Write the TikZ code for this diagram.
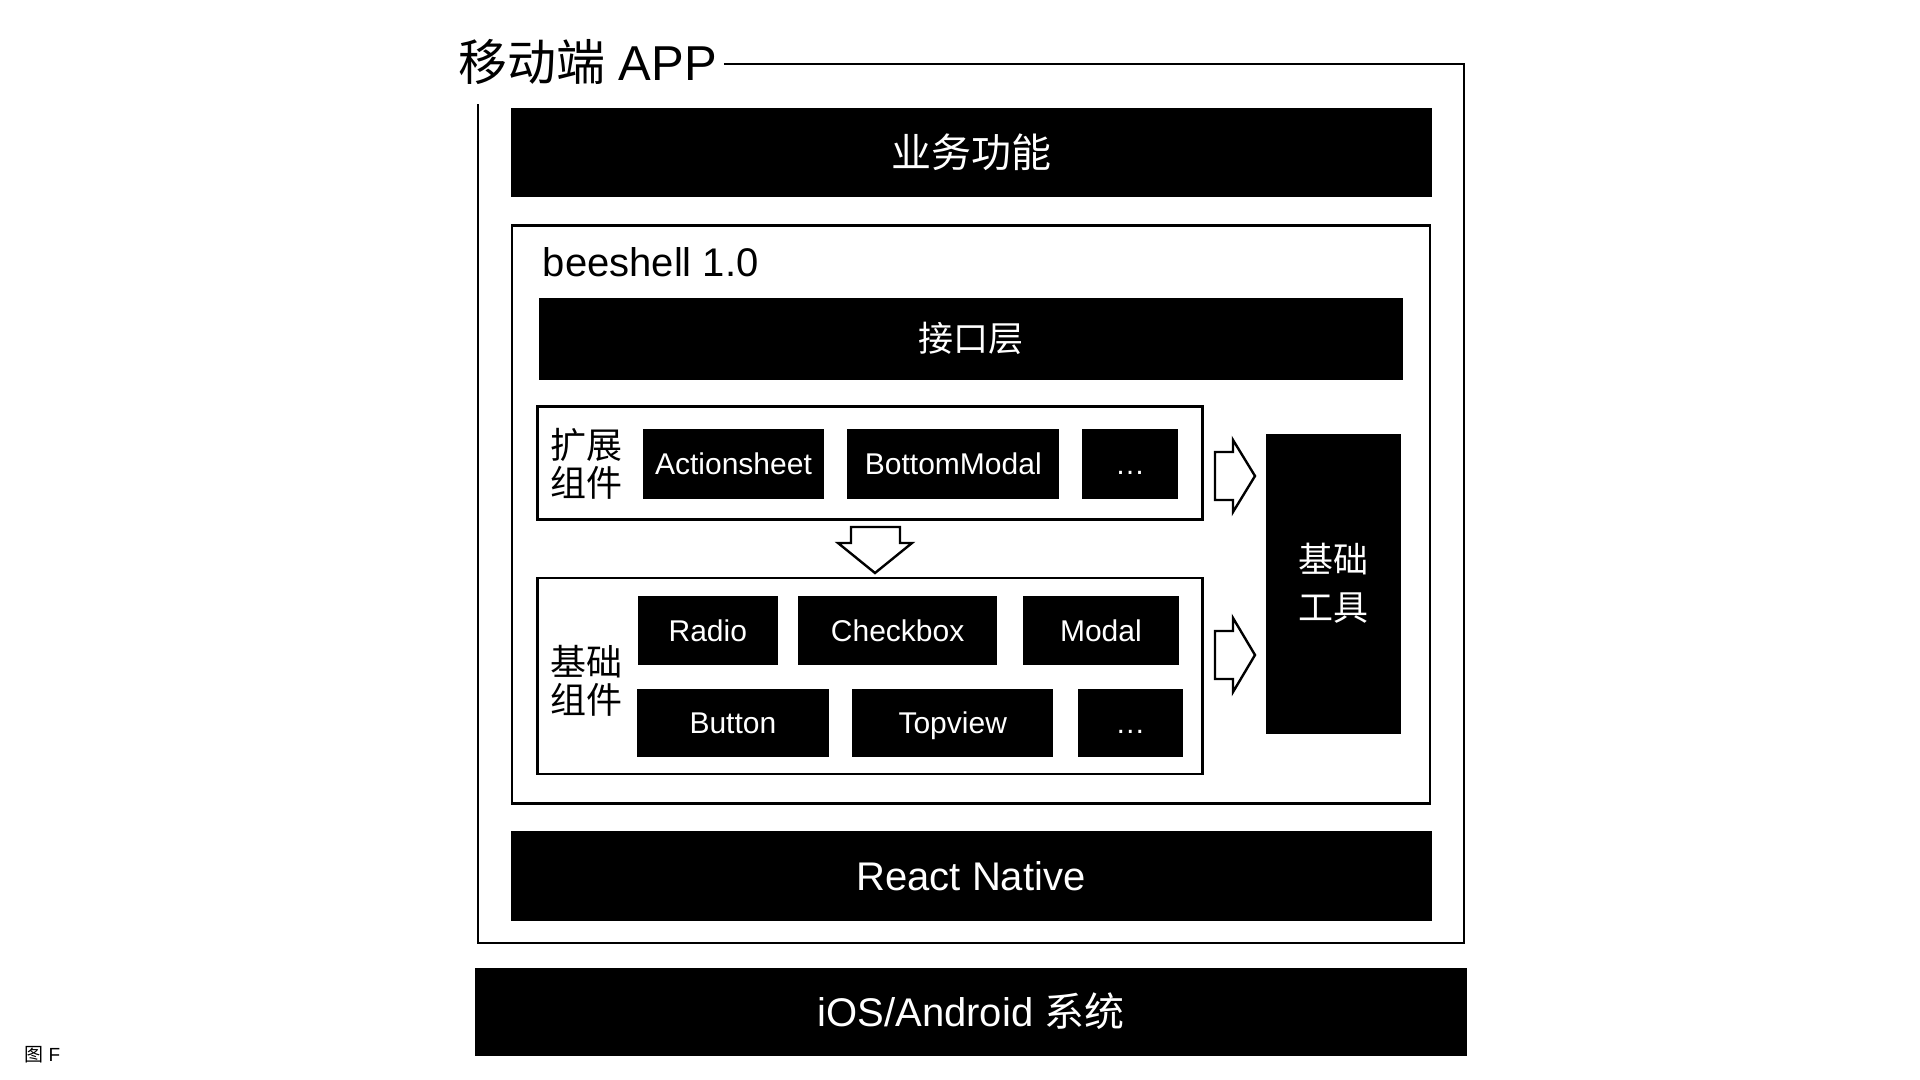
\documentclass[tikz,border=0pt]{standalone}
\usepackage{fontspec}
\setmainfont{Liberation Sans}
\newfontfamily\cjk{Noto Sans CJK SC}

\tikzset{
	barbox/.style={fill=black, text=white, inner sep=0pt, font=\fontsize{20}{24}\selectfont},
	compbox/.style={fill=black, text=white, inner sep=0pt, text height=10.7pt, text depth=0pt, font=\fontsize{15}{18}\selectfont},
	framebox/.style={draw, line width=1.25pt, inner sep=0pt},
	sidelabel/.style={align=center, inner sep=0pt, font=\cjk\fontsize{18}{19}\selectfont},
	hollowarrow/.style={draw, fill=white, line width=1.2pt, line join=miter}
}

\begin{document}
\begin{tikzpicture}[x=0.5pt, y=-0.5pt]

	% Fix the page size
	\useasboundingbox (0,0) rectangle (1920,1080);

	% Outer frame of the app with its title
	\node[anchor=west, font=\fontsize{24.5}{28}\selectfont] (title) at (451,62) {{\cjk 移动端} APP};
	\coordinate (tr) at (1464,64);
	\coordinate (br) at (1464,943);
	\coordinate (bl) at (478,943);
	\coordinate (tl) at (478,104);
	\draw[line width=1.35pt, line join=miter] (title.east |- tr) -- (tr) -- (br) -- (bl) -- (tl);

	% Business layer
	\node[barbox, minimum width=460.5pt, minimum height=44.5pt] (biz) at (971,152.5) {\cjk 业务功能};

	% beeshell frame
	\node[framebox, minimum width=459pt, minimum height=289pt] (bee) at (971,514.3) {};
	\node[anchor=west, inner sep=0pt, font=\fontsize{20}{24}\selectfont] (beetitle) at (542.5,262) {beeshell 1.0};
	\node[barbox, font=\cjk\fontsize{17.5}{20}\selectfont, minimum width=432pt, minimum height=41pt] (api) at (971,338.6) {接口层};

	% Extended components
	\node[framebox, minimum width=332.5pt, minimum height=56.4pt] (ext) at (870,463) {};
	\node[sidelabel] (extlabel) at (586.5,463.5) {扩展\\组件};
	\node[compbox, minimum width=90.5pt, minimum height=35pt] (actionsheet) at (733.5,463.5) {Actionsheet};
	\node[compbox, minimum width=106pt, minimum height=35pt] (bottommodal) at (953.3,463.5) {BottomModal};
	\node[compbox, minimum width=47.75pt, minimum height=35pt] (extmore) at (1130,463.5) {…};

	% Arrow from extended to basic components
	\draw[hollowarrow] (851,527) -- (900,527) -- (900,543) -- (912,543) -- (875,573) -- (838,543) -- (851,543) -- cycle;

	% Basic components
	\node[framebox, minimum width=332.5pt, minimum height=98pt] (base) at (870,676) {};
	\node[sidelabel] (baselabel) at (586.5,681) {基础\\组件};
	\node[compbox, minimum width=69.8pt, minimum height=34.35pt] (radio) at (707.8,630.7) {Radio};
	\node[compbox, minimum width=99.2pt, minimum height=34.35pt] (checkbox) at (897.6,630.7) {Checkbox};
	\node[compbox, minimum width=78.35pt, minimum height=34.35pt] (modal) at (1100.9,630.7) {Modal};
	\node[compbox, minimum width=96.15pt, minimum height=33.7pt] (button) at (732.9,723) {Button};
	\node[compbox, minimum width=100.35pt, minimum height=33.7pt] (topview) at (952.7,723) {Topview};
	\node[compbox, minimum width=52.65pt, minimum height=33.7pt] (basemore) at (1130.3,723) {…};

	% Basic tools and the arrows into it
	\node[barbox, align=center, font=\cjk\fontsize{17.5}{24}\selectfont, minimum width=67.5pt, minimum height=150pt] (tools) at (1333.5,583.5) {基础\\工具};
	\draw[hollowarrow] (1215,452) -- (1233,452) -- (1233,440) -- (1255,476) -- (1233,512) -- (1233,500) -- (1215,500) -- cycle;
	\draw[hollowarrow] (1215,631) -- (1233,631) -- (1233,618) -- (1255,655) -- (1233,692) -- (1233,679) -- (1215,679) -- cycle;

	% React Native and the system
	\node[barbox, minimum width=460.5pt, minimum height=44.7pt] (rn) at (971,876.1) {React Native};
	\node[barbox, minimum width=496pt, minimum height=44pt] (os) at (971,1011.5) {iOS/Android {\cjk 系统}};

	% Figure mark
	\node[anchor=west, inner sep=0pt, font=\fontsize{9.5}{11}\selectfont] (figmark) at (24,1055) {{\cjk 图} F};

\end{tikzpicture}
\end{document}
